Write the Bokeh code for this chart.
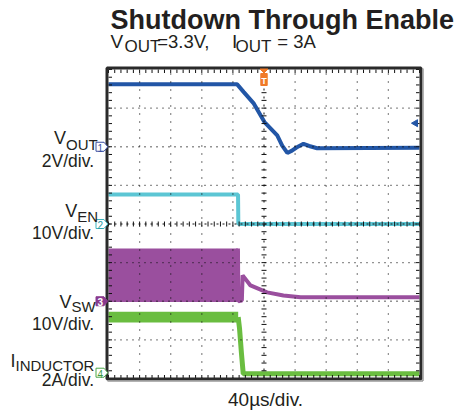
import numpy as np
from bokeh.plotting import figure
from bokeh.models import Range1d
from bokeh.core.properties import value
from bokeh.embed import file_html
from bokeh.resources import INLINE

# ---------------- data (read from the scope shot) ----------------
time_per_div = 40.0          # µs/div
n_xdiv = 10
n_ydiv = 8

# channel 1: VOUT (V), 2 V/div, ground at +2 div
vout_scale, vout_offset = 2.0, 2.0
vout_t = [0, 165.5, 174, 187, 200.6, 217, 223.4, 230, 236, 241.8, 250.8, 258, 268.4, 400]
vout_v = [3.23, 3.23, 2.83, 2.23, 1.28, 0.59, 0.06, -0.32, -0.2, -0.04, 0.15, 0.04, -0.08, -0.05]
vout_trig_level = 1.22

# channel 2: VEN (V), 10 V/div, ground at 0 div
ven_scale, ven_offset = 10.0, 0.0
ven_t = [0, 166.6, 167.0, 400]
ven_v = [7.62, 7.62, 0.0, 0.0]

# channel 3: VSW (V), 10 V/div, ground at -2 div
vsw_scale, vsw_offset = 10.0, -2.0
vsw_band_t = [0, 166.5]
vsw_band_lo = [-0.2, -0.2]
vsw_band_hi = [13.65, 13.65]
vsw_tail_t = [166.5, 167.0, 169.5, 171.5, 172.5, 182.6, 204, 225, 247, 400]
vsw_tail_v = [13.65, 0.0, 0.1, 0.2, 6.7, 4.1, 2.3, 1.5, 1.05, 1.05]

# channel 4: inductor current (A), 2 A/div, ground at -3.85 div
il_scale, il_offset = 2.0, -3.85
il_band_t = [0, 166.8]
il_band_lo = [2.6, 2.6]
il_band_hi = [3.16, 3.16]
il_tail_t = [166.8, 168.5, 171.0, 173.3, 400]
il_tail_v = [2.88, 2.3, 1.0, -0.05, -0.05]

# ---------------- geometry helpers (page px -> data) ----------------
X0, PX_DIV = 108.0, 31.1
YC, PY_DIV = 223.5, 38.625
TXT_SHIFT = 6.0   # svg text sits lower than its nominal baseline

def tx(X):
    return (X - X0) / PX_DIV * time_per_div

def dy(Y):
    return (YC - Y) / PY_DIV

def to_div(v, scale, off):
    return [vv / scale + off for vv in v]

W, H = 474, 412
p = figure(width=W, height=H, output_backend="svg", toolbar_location=None,
           x_range=Range1d(tx(0), tx(W)), y_range=Range1d(dy(H), dy(0)),
           x_axis_location=None, y_axis_location=None, min_border=0,
           outline_line_color=None, background_fill_color="white", border_fill_color="white")
p.grid.visible = False

T_END = n_xdiv * time_per_div
FONT = value("Liberation Sans")

# ---------------- traces ----------------
c_vout, c_en, c_sw, c_il = "#2256a6", "#5cc6d4", "#9a4f9e", "#6abd40"
p.varea(x=vsw_band_t, y1=to_div(vsw_band_lo, vsw_scale, vsw_offset),
        y2=to_div(vsw_band_hi, vsw_scale, vsw_offset), fill_color=c_sw)
p.line(vsw_tail_t, to_div(vsw_tail_v, vsw_scale, vsw_offset), line_color=c_sw, line_width=4)
p.varea(x=il_band_t, y1=to_div(il_band_lo, il_scale, il_offset),
        y2=to_div(il_band_hi, il_scale, il_offset), fill_color=c_il)
p.line(il_tail_t, to_div(il_tail_v, il_scale, il_offset), line_color=c_il, line_width=5)
p.line(ven_t, to_div(ven_v, ven_scale, ven_offset), line_color=c_en, line_width=4)
p.line(vout_t, to_div(vout_v, vout_scale, vout_offset), line_color=c_vout, line_width=4)

# ---------------- graticule (drawn over the traces, like the scope) ----------------
gcol = "#111111"
for k in range(-3, 4):
    if k == 0:
        continue
    p.line([0, T_END], [k, k], line_color=gcol, line_width=1.3, line_dash="1 5", line_alpha=0.9)
for k in range(1, n_xdiv):
    if k == n_xdiv // 2:
        continue
    t_ = k * time_per_div
    p.line([t_, t_], [-4, 4], line_color=gcol, line_width=1.3, line_dash="1 7", line_alpha=0.9)
p.line([0, T_END], [0, 0], line_color=gcol, line_width=1, line_dash="2 4")
p.line([T_END / 2, T_END / 2], [-4, 4], line_color=gcol, line_width=1, line_dash="2 6")
tt = np.arange(0, T_END + 0.01, time_per_div / 5)
dd = np.arange(-4, 4.01, 0.2)
hx = 2.5 / PY_DIV
hw = 2.5 / PX_DIV * time_per_div
p.segment(tt, -hx, tt, hx, line_color=gcol, line_width=1)
p.segment(T_END / 2 - hw, dd, T_END / 2 + hw, dd, line_color=gcol, line_width=1)
ek = 3.5 / PY_DIV
ew = 3.5 / PX_DIV * time_per_div
p.segment(tt, 4, tt, 4 - ek, line_color=gcol, line_width=1)
p.segment(tt, -4, tt, -4 + ek, line_color=gcol, line_width=1)
p.segment(0, dd, ew, dd, line_color=gcol, line_width=1)
p.segment(T_END, dd, T_END - ew, dd, line_color=gcol, line_width=1)

# frame
p.quad(left=tx(106.5), right=tx(420.5), top=dy(67.5), bottom=dy(378.5),
       fill_color=None, line_color="#2a2a2a", line_width=3)
p.line([tx(422.5), tx(422.5)], [dy(68), dy(380.5)], line_color="#9a9a9a", line_width=1.5)
p.line([tx(107), tx(422.5)], [dy(380.5), dy(380.5)], line_color="#9a9a9a", line_width=1.5)

# trigger marker (top)
tc = T_END / 2
hw4 = tx(112) - tx(108)
hw3 = tx(111.2) - tx(108)
p.patch([tc - hw4, tc + hw4, tc], [dy(68.5), dy(68.5), dy(72.5)],
        fill_color="#f07a28", line_color="#f07a28")
p.quad(left=tc - hw3, right=tc + hw3, top=dy(73), bottom=dy(85),
       fill_color="#f07a28", line_color="#f07a28")
p.text(x=[tc], y=[dy(83 - 2.5)], text=["T"], text_font=FONT, text_font_size="9px",
       text_font_style="bold", text_color="white", text_align="center", text_baseline="alphabetic")

# trigger level arrow for ch1 (right)
p.scatter([tx(415)], [vout_trig_level / vout_scale + vout_offset], marker="triangle",
          angle=np.pi / 2, size=7, fill_color=c_vout, line_color=c_vout)

# channel ground markers (left)
def marker(ydiv, edge, fill, label, tcol):
    Y = YC - ydiv * PY_DIV
    xs = [tx(95.5), tx(103.5), tx(107.3), tx(103.5), tx(95.5)]
    ys = [dy(Y - 4.5), dy(Y - 4.5), dy(Y), dy(Y + 4.5), dy(Y + 4.5)]
    p.patch(xs, ys, fill_color=fill, line_color=edge, line_width=1)
    p.text(x=[tx(99.8)], y=[dy(Y + 3.6 - 2.5)], text=[label], text_font=FONT, text_font_size="10px",
           text_font_style="bold" if fill != "white" else "normal",
           text_color=tcol, text_align="center", text_baseline="alphabetic")

marker(vout_offset, "#3a4ea0", "white", "1", "#3a4ea0")
marker(ven_offset, "#3fb5bf", "white", "2", "#2a9aa5")
marker(vsw_offset, "#8a3a8e", "#8a3a8e", "3", "white")
marker(il_offset, "#4aa84a", "white", "4", "#3c9a3c")

# ---------------- texts ----------------
def t(xp, yp, s, size, align="left", style="normal", color="#231f20"):
    p.text(x=[tx(xp)], y=[dy(yp - TXT_SHIFT)], text=[s], text_font=FONT, text_font_size=size,
           text_font_style=style, text_color=color, text_align=align, text_baseline="alphabetic")

t(110, 25.5, "Shutdown Through Enable", "27px", style="bold")
t(110, 46.7, "V", "19px")
t(124, 51.7, "OUT", "17px")
t(156.7, 46.7, "=3.3V,", "18.5px")
t(231.5, 46.7, "I", "19px")
t(235, 51.7, "OUT", "17px")
t(276.7, 46.7, "= 3A", "18.5px")

t(65.5, 143, "V", "18px", align="right")
t(65.5, 149.5, "OUT", "15px")
t(93.5, 166, "2V/div.", "17.5px", align="right")

t(76.7, 216.7, "V", "18px", align="right")
t(76.7, 221.5, "EN", "15px")
t(93.5, 238, "10V/div.", "17.5px", align="right")

t(71, 307, "V", "18px", align="right")
t(71, 311.7, "SW", "15px")
t(93.5, 329, "10V/div.", "17.5px", align="right")

t(15, 366.7, "I", "18px", align="right")
t(15, 370.5, "INDUCTOR", "15px")
t(93.5, 385, "2A/div.", "17.5px", align="right")

t(265, 405, "40µs/div.", "19px", align="center")

open("out.html", "w").write(file_html(p, INLINE))
